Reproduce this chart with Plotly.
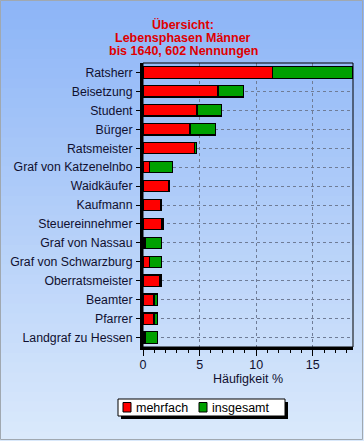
import plotly.graph_objects as go

categories = ["Ratsherr", "Beisetzung", "Student", "Bürger", "Ratsmeister",
              "Graf von Katzenelnbo", "Waidkäufer", "Kaufmann", "Steuereinnehmer",
              "Graf von Nassau", "Graf von Schwarzburg", "Oberratsmeister",
              "Beamter", "Pfarrer", "Landgraf zu Hessen"]
mehrfach = [11.43, 6.63, 4.77, 4.16, 4.54, 0.59, 2.30, 1.55, 1.68,
            0.17, 0.59, 1.50, 0.97, 0.97, 0.17]
insgesamt = [7.07, 2.27, 2.19, 2.26, 0.18, 2.03, 0.06, 0.05, 0.09,
             1.48, 1.06, 0.09, 0.33, 0.33, 1.13]
series_names = ["mehrfach", "insgesamt"]
series_colors = ["#ff0000", "#00a000"]
title_lines = ["Übersicht:", "Lebensphasen Männer", "bis 1640, 602 Nennungen"]
x_ticks = [0, 5, 10, 15]
x_title = "Häufigkeit %"

W, H = 364, 441
L, R, T, B = 143, 353, 63, 347
PW, PH = R - L, B - T


def px(x):
    return (x - L) / PW


def py(y):
    return (B - y) / PH


fig = go.Figure()
for name, vals, col in zip(series_names, [mehrfach, insgesamt], series_colors):
    fig.add_trace(go.Bar(
        y=categories, x=vals, orientation="h", name=name,
        marker=dict(color=col, line=dict(color="black", width=1.2)),
        width=0.6, showlegend=False))

shapes = []
# background gradient
top = (141, 181, 247)
bot = (218, 233, 251)
n = 45
for i in range(n):
    t = i / (n - 1)
    c = tuple(round(top[k] + (bot[k] - top[k]) * t) for k in range(3))
    y0 = H * i / n
    y1 = H * (i + 1) / n + 1
    shapes.append(dict(type="rect", xref="paper", yref="paper",
                       x0=px(0), x1=px(W), y0=py(y1), y1=py(y0),
                       fillcolor="rgb(%d,%d,%d)" % c, line=dict(width=0),
                       layer="below"))
# window border
shapes.append(dict(type="rect", xref="paper", yref="paper",
                   x0=px(0.5), x1=px(W - 1.5), y0=py(H - 1.5), y1=py(0.5),
                   line=dict(color="#a0a8b0", width=1), layer="below"))
# thin plot frame
shapes.append(dict(type="rect", xref="paper", yref="paper",
                   x0=0, x1=1, y0=0, y1=1,
                   line=dict(color="black", width=1), layer="above"))
# legend box with shadow
lx0, lx1, ly0, ly1 = 118, 285, 399, 416
shapes.append(dict(type="rect", xref="paper", yref="paper",
                   x0=px(lx0 + 3), x1=px(lx1 + 3), y0=py(ly1 + 3), y1=py(ly0 + 3),
                   fillcolor="black", line=dict(width=0), layer="above"))
shapes.append(dict(type="rect", xref="paper", yref="paper",
                   x0=px(lx0), x1=px(lx1), y0=py(ly1), y1=py(ly0),
                   fillcolor="white", line=dict(color="black", width=1), layer="above"))
annotations = []
sym_x = [123, 199]
txt_x = [134, 210]
for sx, tx, name, col in zip(sym_x, txt_x, series_names, series_colors):
    shapes.append(dict(type="rect", xref="paper", yref="paper",
                       x0=px(sx), x1=px(sx + 8), y0=py(412), y1=py(402.5),
                       fillcolor=col, line=dict(color="black", width=1), layer="above"))
    annotations.append(dict(xref="paper", yref="paper", x=px(tx), y=py(407.5),
                            text=name, showarrow=False, xanchor="left", yanchor="middle",
                            font=dict(family="Liberation Sans, Arial", size=12.5, color="black")))
# title
for line, yc in zip(title_lines, [25, 38, 51]):
    annotations.append(dict(xref="paper", yref="paper", x=px(183), y=py(yc),
                            text="<b>%s</b>" % line, showarrow=False,
                            xanchor="center", yanchor="middle",
                            font=dict(family="Liberation Sans, Arial", size=12.5, color="#e00000")))

fig.update_layout(
    width=W, height=H, barmode="stack",
    margin=dict(l=L, r=W - R, t=T, b=H - B, pad=0, autoexpand=False),
    paper_bgcolor="rgba(0,0,0,0)", plot_bgcolor="rgba(0,0,0,0)",
    shapes=shapes, annotations=annotations,
    font=dict(family="Liberation Sans, Arial", size=12, color="#101030"),
    bargap=0.4,
)
fig.update_xaxes(range=[0, 18.55], tickvals=x_ticks, ticks="outside", ticklen=6,
                 tickcolor="black", tickwidth=1, automargin=False,
                 minor=dict(dtick=1, ticks="outside", ticklen=3, tickcolor="black", showgrid=False),
                 showgrid=True, gridcolor="#6f7c96", griddash="3px,3px", gridwidth=1,
                 showline=True, linecolor="black", linewidth=3, zeroline=False,
                 title=dict(text=x_title, standoff=2, font=dict(size=12.5, color="#101030")),
                 tickfont=dict(size=12.5, color="#101030"), ticklabelstandoff=-2)
fig.update_yaxes(autorange="reversed", ticks="outside", ticklen=4, tickcolor="black",
                 automargin=False,
                 showgrid=True, gridcolor="#6f7c96", griddash="3px,3px", gridwidth=1,
                 showline=True, linecolor="black", linewidth=3,
                 tickfont=dict(size=12.3, color="#101030"), ticklabelstandoff=1)

fig.write_html("out.html", config={"displayModeBar": False},
               post_script="document.body.style.margin='0px';document.body.style.overflow='hidden';")
